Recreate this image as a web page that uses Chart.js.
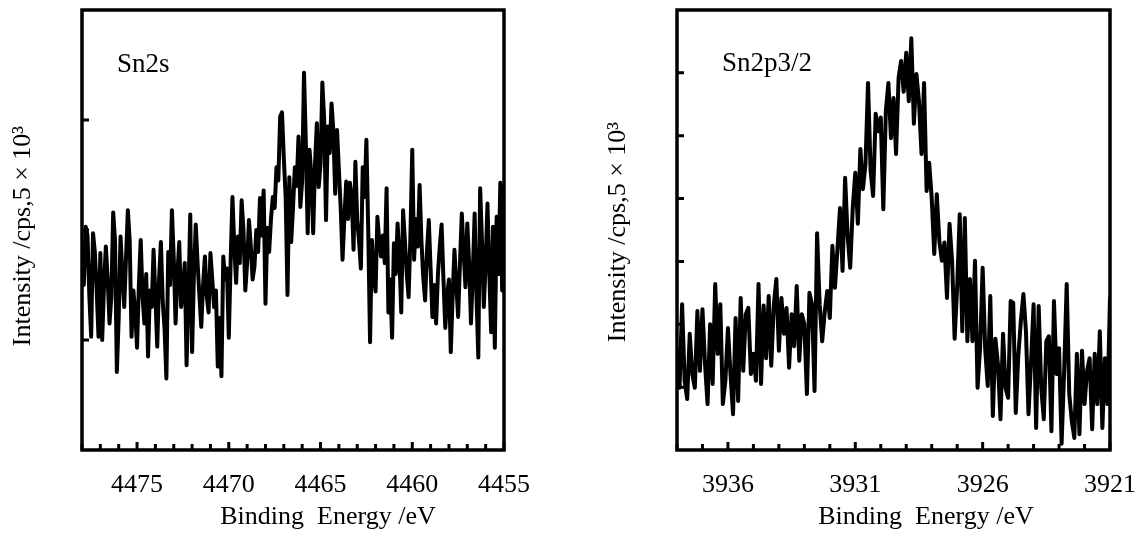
<!DOCTYPE html>
<html>
<head>
<meta charset="utf-8">
<script src="https://cdn.jsdelivr.net/npm/chart.js@4"></script>
<style>
  html, body { margin: 0; padding: 0; background: #fff; }
  #wrap { position: relative; width: 1138px; height: 533px; overflow: hidden; }
  canvas { position: absolute; top: 0; }
</style>
</head>
<body>
<div id="wrap">
  <canvas id="sn2s" width="569" height="533" style="left:0"></canvas>
  <canvas id="sn2p" width="569" height="533" style="left:569px"></canvas>
</div>
<script>
// Sn2s spectrum, binding energy 4478.0 -> 4455.0 eV in 0.1 eV steps (intensity in units of 5x10^3 cps)
const sn2sStart = 4478.0;
const sn2sStep = 0.1;
const sn2sCounts = [
  1.70, 1.50, 2.03, 1.95, 1.40, 1.03, 1.97, 1.80, 1.45, 1.03,
  1.79, 1.00, 1.50, 1.85, 1.55, 1.15, 1.40, 2.16, 1.90, 0.71,
  1.20, 1.94, 1.60, 1.30, 1.75, 2.18, 1.90, 1.03, 1.45, 1.25,
  0.93, 1.50, 1.91, 1.40, 1.15, 1.60, 0.85, 1.45, 1.30, 1.82,
  1.40, 0.94, 1.55, 1.89, 1.35, 1.10, 0.65, 1.80, 1.50, 2.18,
  1.75, 1.15, 1.60, 1.89, 1.30, 1.45, 1.70, 0.77, 1.40, 2.14,
  0.89, 1.60, 2.05, 1.70, 1.40, 1.12, 1.50, 1.76, 1.40, 1.25,
  1.79, 1.55, 1.30, 1.45, 0.76, 1.20, 0.67, 1.76, 1.55, 1.65,
  1.02, 1.70, 2.30, 1.85, 1.52, 1.94, 1.70, 2.27, 2.00, 1.45,
  1.70, 2.09, 1.85, 1.55, 1.67, 2.00, 1.80, 2.29, 1.95, 2.36,
  1.33, 2.02, 1.80, 2.10, 2.30, 2.20, 2.57, 2.45, 3.03, 3.07,
  2.65, 2.30, 1.41, 2.48, 1.89, 2.20, 2.57, 2.40, 2.85, 2.21,
  2.45, 3.43, 2.80, 1.97, 2.73, 2.50, 1.97, 2.60, 2.97, 2.39,
  2.60, 3.34, 3.00, 2.09, 2.94, 2.70, 3.15, 2.90, 2.33, 2.91,
  2.55, 2.20, 1.73, 2.10, 2.44, 2.10, 2.43, 2.30, 1.82, 2.62,
  2.09, 1.90, 1.65, 2.57, 2.30, 2.82, 2.00, 0.98, 1.91, 1.60,
  1.44, 2.12, 1.90, 1.76, 1.95, 1.70, 2.38, 1.25, 1.55, 1.02,
  1.88, 1.60, 2.06, 1.75, 1.25, 2.18, 1.90, 1.60, 1.39, 1.95,
  2.73, 1.73, 2.10, 1.85, 2.41, 1.90, 1.57, 1.36, 1.80, 2.09,
  1.65, 1.21, 1.50, 1.15, 1.60, 1.85, 2.05, 1.55, 1.11, 1.40,
  1.55, 0.89, 1.40, 1.82, 1.50, 1.21, 1.70, 2.15, 1.80, 1.48,
  2.06, 1.70, 1.15, 1.60, 2.15, 1.40, 0.84, 2.38, 1.90, 1.30,
  1.70, 2.24, 1.60, 1.07, 2.03, 0.93, 2.12, 1.60, 2.43, 1.45,
  2.40
];
const sn2sXTicks = [4475, 4470, 4465, 4460, 4455];
const sn2sYTicks = [1, 2, 3];

// Sn2p3/2 spectrum, binding energy 3938.0 -> 3921.0 eV in 0.1 eV steps
const sn2pStart = 3938.0;
const sn2pStep = 0.1;
const sn2pCounts = [
  1.60, 0.99, 2.32, 1.10, 0.81, 1.85, 1.21, 0.99, 2.21, 1.26,
  2.24, 1.37, 0.73, 2.00, 1.05, 2.64, 1.53, 2.32, 0.73, 1.10,
  1.94, 1.21, 0.57, 2.10, 0.78, 2.42, 1.26, 2.16, 2.26, 1.21,
  1.53, 1.10, 2.64, 1.05, 2.30, 1.46, 2.45, 1.34, 2.30, 2.72,
  1.58, 2.42, 1.85, 2.26, 1.31, 2.16, 1.65, 2.61, 1.42, 2.16,
  2.00, 0.89, 2.50, 2.32, 0.94, 3.45, 2.32, 1.73, 2.20, 2.53,
  2.10, 3.25, 2.58, 3.20, 3.85, 2.85, 4.33, 3.40, 2.90, 3.85,
  4.41, 3.60, 4.79, 4.15, 4.55, 5.84, 4.44, 4.04, 5.35, 5.07,
  5.29, 3.83, 5.40, 5.84, 4.96, 5.60, 4.71, 5.92, 6.19, 5.70,
  6.32, 5.55, 6.55, 5.19, 5.98, 5.55, 4.71, 5.84, 4.12, 4.57,
  4.01, 3.12, 4.07, 3.32, 3.01, 3.30, 2.42, 3.60, 3.01, 1.77,
  2.60, 3.75, 1.89, 3.69, 1.73, 2.72, 1.73, 3.01, 0.99, 1.62,
  2.90, 1.60, 1.02, 2.45, 0.54, 1.77, 1.37, 0.49, 1.85, 0.99,
  0.83, 2.37, 2.34, 0.59, 1.50, 2.05, 2.48, 1.89, 0.57, 1.40,
  2.32, 0.35, 2.29, 0.99, 0.49, 1.73, 1.81, 0.30, 2.37, 1.21,
  1.62, 0.10, 1.26, 2.64, 0.89, 0.46, 0.19, 1.53, 0.25, 1.58,
  0.73, 1.26, 1.46, 0.33, 1.53, 0.73, 1.89, 0.35, 1.46, 0.73,
  2.42
];
const sn2pXTicks = [3936, 3931, 3926, 3921];
const sn2pYTicks = [1, 2, 3, 4, 5, 6];

const SERIF = "'Liberation Serif', 'Times New Roman', serif";
const Y_TITLE = 'Intensity /cps,5 \u00d7 10\u00b3';
const X_TITLE = 'Binding  Energy /eV';
const CANVAS_H = 533;
const AREA_TOP = 10;
const AREA_BOTTOM = 450;

Chart.defaults.font.family = SERIF;
Chart.defaults.color = '#000';

function toPoints(start, step, counts) {
  return counts.map((v, i) => ({ x: +(start - i * step).toFixed(1), y: v }));
}

// frame box, inward tick marks and the free-standing texts
function framePlugin(cfg) {
  return {
    id: 'frame',
    afterDatasetsDraw(chart) {
      const { ctx, chartArea: a, scales: { x, y } } = chart;
      ctx.save();
      ctx.strokeStyle = '#000';
      ctx.lineWidth = 3.5;
      ctx.strokeRect(a.left, a.top, a.right - a.left, a.bottom - a.top);
      ctx.lineWidth = 3;
      ctx.beginPath();
      for (let v = Math.ceil(x.min); v <= x.max; v++) {
        const px = x.getPixelForValue(v);
        const len = cfg.xTicks.includes(v) ? 8 : 6;
        ctx.moveTo(px, a.bottom);
        ctx.lineTo(px, a.bottom - len);
      }
      cfg.yTicks.forEach(v => {
        const py = y.getPixelForValue(v);
        ctx.moveTo(a.left, py);
        ctx.lineTo(a.left + 7, py);
      });
      ctx.stroke();
      ctx.fillStyle = '#000';
      cfg.texts.forEach(t => {
        ctx.save();
        ctx.font = t.font;
        ctx.textAlign = t.align || 'center';
        ctx.textBaseline = t.baseline || 'middle';
        ctx.translate(t.x, t.y);
        if (t.rot) ctx.rotate(t.rot);
        ctx.fillText(t.text, 0, 0);
        ctx.restore();
      });
      ctx.restore();
    }
  };
}

function makeChart(id, cfg) {
  const el = document.getElementById(id);
  return new Chart(el.getContext('2d'), {
    type: 'line',
    data: {
      datasets: [{
        data: toPoints(cfg.start, cfg.step, cfg.counts),
        borderColor: '#000',
        borderWidth: 4,
        borderJoinStyle: 'round',
        borderCapStyle: 'round',
        pointRadius: 0,
        tension: 0,
        fill: false
      }]
    },
    options: {
      responsive: false,
      animation: false,
      devicePixelRatio: 1,
      layout: { padding: { left: cfg.left, right: el.width - cfg.right, top: AREA_TOP, bottom: 0 } },
      plugins: { legend: { display: false }, tooltip: { enabled: false } },
      scales: {
        x: {
          type: 'linear',
          reverse: true,
          min: cfg.xMin,
          max: cfg.xMax,
          grid: { display: false },
          border: { display: false },
          afterBuildTicks: s => { s.ticks = cfg.xTicks.map(v => ({ value: v })); },
          afterFit: s => { s.height = CANVAS_H - AREA_BOTTOM; s.paddingLeft = 0; s.paddingRight = 0; },
          ticks: {
            color: '#000',
            font: { size: 26, family: SERIF },
            padding: 12,
            maxRotation: 0,
            autoSkip: false,
            callback: v => String(v)
          }
        },
        y: { display: false, min: 0, max: cfg.yMax }
      }
    },
    plugins: [framePlugin(cfg)]
  });
}

makeChart('sn2s', {
  start: sn2sStart, step: sn2sStep, counts: sn2sCounts,
  xMin: 4455, xMax: 4478, yMax: 4,
  xTicks: sn2sXTicks, yTicks: sn2sYTicks,
  left: 82, right: 504,
  texts: [
    { text: 'Sn2s', x: 117, y: 72, align: 'left', baseline: 'alphabetic', font: '27px ' + SERIF },
    { text: Y_TITLE, x: 23, y: 236, rot: -Math.PI / 2, font: '26px ' + SERIF },
    { text: X_TITLE, x: 328, y: 517, font: '26px ' + SERIF }
  ]
});

makeChart('sn2p', {
  start: sn2pStart, step: sn2pStep, counts: sn2pCounts,
  xMin: 3921, xMax: 3938, yMax: 7,
  xTicks: sn2pXTicks, yTicks: sn2pYTicks,
  left: 677 - 569, right: 1110 - 569,
  texts: [
    { text: 'Sn2p3/2', x: 722 - 569, y: 71, align: 'left', baseline: 'alphabetic', font: '27px ' + SERIF },
    { text: Y_TITLE, x: 618 - 569, y: 232, rot: -Math.PI / 2, font: '26px ' + SERIF },
    { text: X_TITLE, x: 926 - 569, y: 517, font: '26px ' + SERIF }
  ]
});
</script>
</body>
</html>
